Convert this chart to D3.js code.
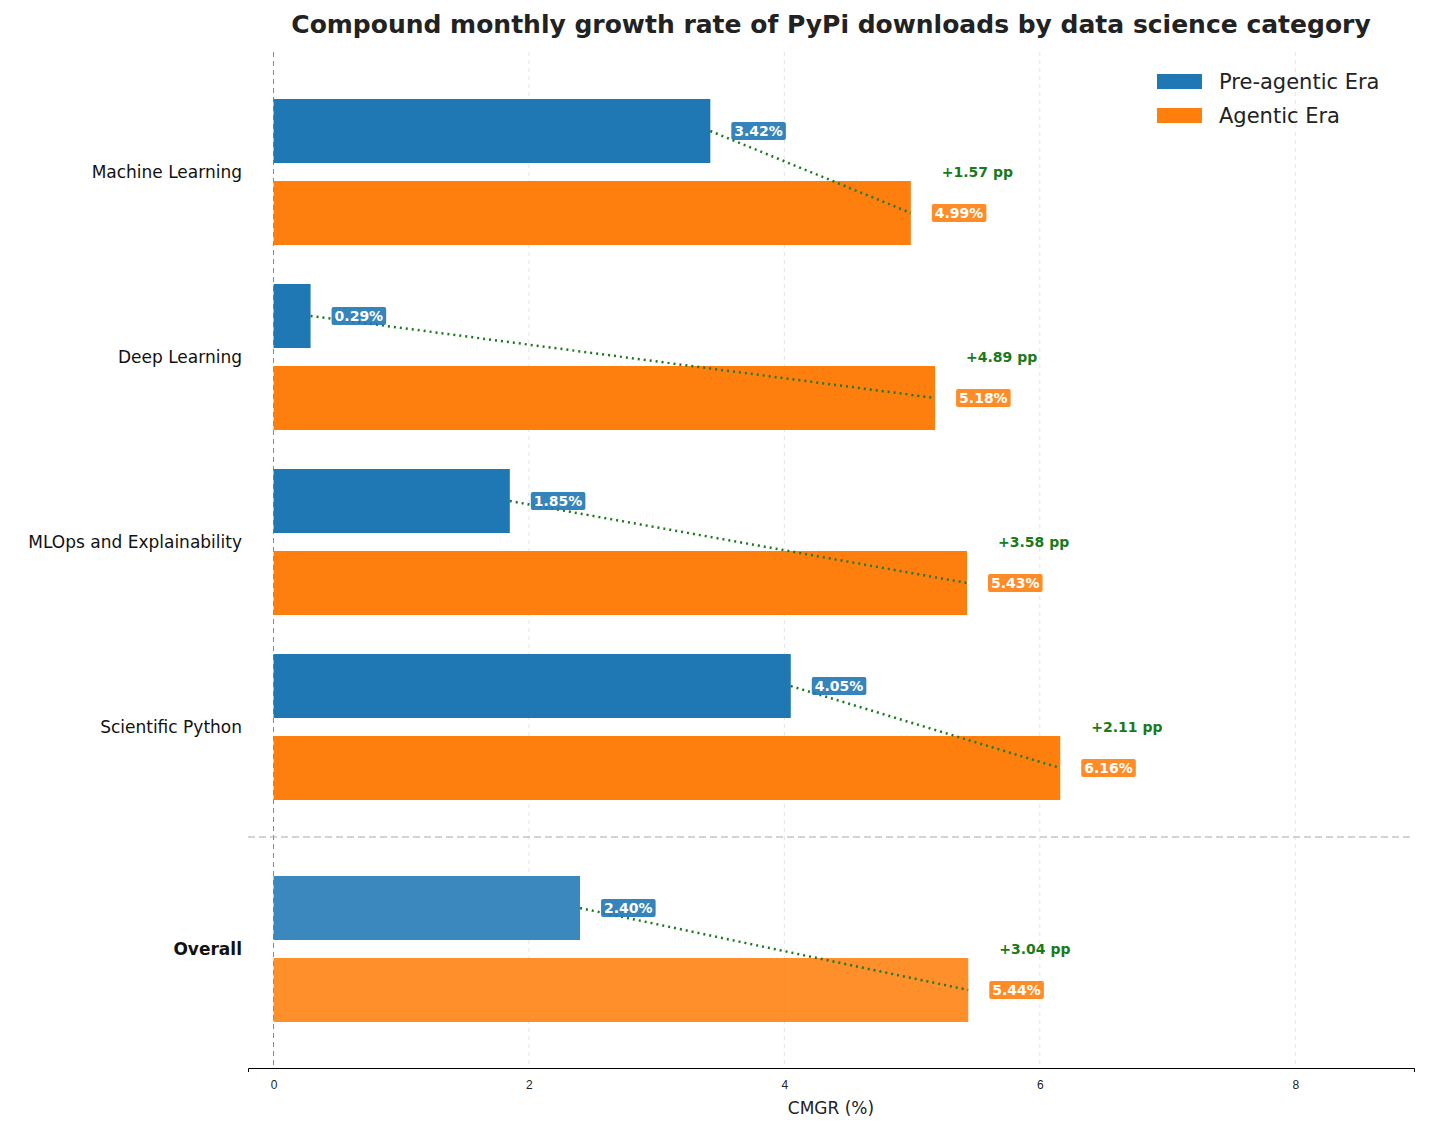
<!DOCTYPE html>
<html><head><meta charset="utf-8">
<script src="https://cdn.jsdelivr.net/npm/d3@7"></script>
<style>body{margin:0;background:#fff;font-family:"DejaVu Sans",sans-serif}</style>
</head><body><svg id="chart" width="1456" height="1128"></svg>
<script>
const categories = ['Machine Learning', 'Deep Learning', 'MLOps and Explainability', 'Scientific Python', 'Overall'];
const preAgentic = [3.42, 0.29, 1.85, 4.05, 2.40];
const agentic = [4.99, 5.18, 5.43, 6.16, 5.44];
const xTicks = [0, 2, 4, 6, 8];

const svg = d3.select('#chart');
const blue = '#1f77b4', orange = '#ff7f0e', green = '#1a7a1a';
const x = d3.scaleLinear().domain([-0.2, 8.93]).range([248, 1414]);
const y = d3.scaleOrdinal().domain(categories).range([172, 357, 542, 727, 949]);
const barH = 64, gap = 9;

svg.append('text').attr('x', 831).attr('y', 33).attr('text-anchor', 'middle')
  .attr('font-size', 25).attr('font-weight', 'bold').attr('fill', '#222')
  .text('Compound monthly growth rate of PyPi downloads by data science category');

// grid
xTicks.slice(1).forEach(t => svg.append('line').attr('x1', x(t)).attr('x2', x(t))
  .attr('y1', 52).attr('y2', 1068).attr('stroke', '#ddd').attr('stroke-dasharray', '4,4').attr('stroke-width', 0.8));
svg.append('line').attr('x1', x(0)).attr('x2', x(0)).attr('y1', 52).attr('y2', 1068)
  .attr('stroke', '#888').attr('stroke-dasharray', '5,4').attr('stroke-width', 1);
svg.append('line').attr('x1', 248).attr('x2', 1414).attr('y1', 837).attr('y2', 837)
  .attr('stroke', '#aaa').attr('stroke-dasharray', '7,4').attr('stroke-width', 1.2);

// axis
const ax = svg.append('g').attr('transform', 'translate(0,1068)')
  .call(d3.axisBottom(x).tickValues(xTicks).tickSize(4).tickFormat(d3.format('d')));
ax.select('.domain').attr('stroke', '#000');
ax.selectAll('.tick line').remove();
ax.selectAll('text').attr('font-size', 12).attr('fill', '#222').attr('dy', '1.2em');
svg.append('text').attr('x', 831).attr('y', 1114).attr('text-anchor', 'middle').attr('font-size', 17).attr('fill', '#222').text('CMGR (%)');

categories.forEach((c, i) => {
  const cy = y(c), op = c === 'Overall' ? 0.88 : 1;
  const by = cy - gap / 2 - barH / 2 - 4.5, oy = cy + gap / 2 + barH / 2 + 4.5;
  svg.append('rect').attr('x', x(0)).attr('y', by - barH / 2).attr('width', x(preAgentic[i]) - x(0)).attr('height', barH).attr('fill', blue).attr('opacity', op);
  svg.append('rect').attr('x', x(0)).attr('y', oy - barH / 2).attr('width', x(agentic[i]) - x(0)).attr('height', barH).attr('fill', orange).attr('opacity', op);
  svg.append('line').attr('x1', x(preAgentic[i])).attr('y1', by).attr('x2', x(agentic[i])).attr('y2', oy)
    .attr('stroke', green).attr('stroke-width', 2.5).attr('stroke-dasharray', '2,4');
  [[preAgentic[i], by, blue], [agentic[i], oy, orange]].forEach(([v, yy, col]) => {
    const t = svg.append('text').attr('x', x(v) + 24).attr('y', yy + 5).attr('font-size', 14)
      .attr('font-weight', 'bold').attr('fill', '#fff').text(v.toFixed(2) + '%');
    const b = t.node().getBBox();
    svg.insert('rect', () => t.node()).attr('x', b.x - 3).attr('y', b.y - 1).attr('width', b.width + 6).attr('height', b.height + 2)
      .attr('fill', col).attr('opacity', 0.9).attr('rx', 2);
  });
  const mx = Math.max(preAgentic[i], agentic[i]);
  svg.append('text').attr('x', x(mx) + 31).attr('y', cy + 5).attr('font-size', 14).attr('font-weight', 'bold')
    .attr('fill', green).text('+' + (agentic[i] - preAgentic[i]).toFixed(2) + ' pp');
  svg.append('text').attr('x', 242).attr('y', cy + 6).attr('text-anchor', 'end').attr('font-size', 17)
    .attr('font-weight', c === 'Overall' ? 'bold' : 'normal').attr('fill', '#111').text(c);
});

// legend
[['Pre-agentic Era', blue], ['Agentic Era', orange]].forEach(([l, col], i) => {
  svg.append('rect').attr('x', 1157).attr('y', 74 + i * 34).attr('width', 45).attr('height', 15).attr('fill', col);
  svg.append('text').attr('x', 1219).attr('y', 89 + i * 34).attr('font-size', 21).attr('fill', '#222').text(l);
});
</script></body></html>
